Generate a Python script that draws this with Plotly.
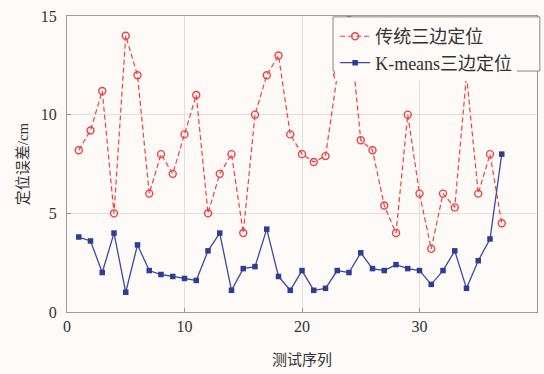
import plotly.graph_objects as go

# Test sequence index and positioning error (cm) for the two methods
test_index = list(range(1, 38))
traditional_error = [8.2, 9.2, 11.2, 5.0, 14.0, 12.0, 6.0, 8.0, 7.0, 9.0,
                     11.0, 5.0, 7.0, 8.0, 4.0, 10.0, 12.0, 13.0, 9.0, 8.0,
                     7.6, 7.9, 12.0, 14.8, 8.7, 8.2, 5.4, 4.0, 10.0, 6.0,
                     3.2, 6.0, 5.3, 12.0, 6.0, 8.0, 4.5]
kmeans_error = [3.8, 3.6, 2.0, 4.0, 1.0, 3.4, 2.1, 1.9, 1.8, 1.7,
                1.6, 3.1, 4.0, 1.1, 2.2, 2.3, 4.2, 1.8, 1.1, 2.1,
                1.1, 1.2, 2.1, 2.0, 3.0, 2.2, 2.1, 2.4, 2.2, 2.1,
                1.4, 2.1, 3.1, 1.2, 2.6, 3.7, 8.0]

x_ticks = [0, 10, 20, 30, 40]
y_ticks = [0, 5, 10, 15]

serif = "Liberation Serif, Noto Sans CJK SC, serif"
bg = "#fdfaf7"

fig = go.Figure()
fig.add_trace(go.Scatter(
    x=test_index, y=traditional_error, name="传统三边定位",
    mode="lines+markers",
    line=dict(color="#ef4044", width=1.2, dash="5px,3px"),
    marker=dict(symbol="circle-open", size=7, color="#ef4044",
                line=dict(width=1.4)),
))
fig.add_trace(go.Scatter(
    x=test_index, y=kmeans_error, name="K-means三边定位",
    mode="lines+markers",
    line=dict(color="#3b4a9c", width=1.3),
    marker=dict(symbol="square", size=5.5, color="#2e3c96"),
))

axis_common = dict(
    showline=True, linecolor="#9a9a9a", linewidth=1, mirror=True,
    showgrid=True, gridcolor="#e2dedb", gridwidth=1,
    ticks="inside", ticklen=4, tickcolor="#9a9a9a",
    zeroline=False,
    tickfont=dict(family=serif, size=16, color="#333333"),
)

# Boxed legend panel in the upper right of the plot area
fig.add_shape(
    type="rect", xref="paper", yref="paper",
    x0=0.566, x1=1.006, y0=0.814, y1=0.997,
    line=dict(color="#8a8a8a", width=1), fillcolor=bg, layer="above",
)

fig.update_layout(
    width=544, height=374,
    margin=dict(l=67, r=7, t=16, b=62),
    paper_bgcolor=bg, plot_bgcolor=bg,
    font=dict(family=serif, size=15, color="#333333"),
    xaxis=dict(range=[0, 40], tickvals=x_ticks, **axis_common,
               title=dict(text="测试序列", font=dict(size=15), standoff=20)),
    yaxis=dict(range=[0, 15], tickvals=y_ticks, **axis_common,
               ticklabelstandoff=6,
               title=dict(text="定位误差/cm", font=dict(size=15), standoff=8)),
    legend=dict(
        x=0.5705, y=0.993, xanchor="left", yanchor="top",
        bgcolor=bg, borderwidth=0,
        font=dict(family=serif, size=18, color="#333333"),
        itemwidth=30,
    ),
    showlegend=True,
)

fig.write_html("out.html")
